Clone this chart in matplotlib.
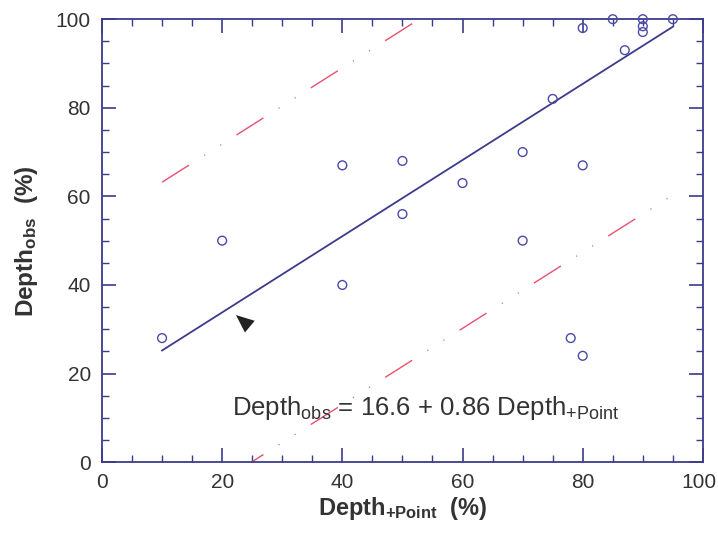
import matplotlib
matplotlib.use("Agg")
import matplotlib.pyplot as plt
from matplotlib.ticker import MultipleLocator, FuncFormatter
import numpy as np

plt.rcParams.update({
    "font.family": ["Liberation Sans", "DejaVu Sans"],
    "mathtext.fontset": "custom",
    "mathtext.rm": "Liberation Sans",
    "mathtext.bf": "Liberation Sans:bold",
    "mathtext.it": "Liberation Sans:italic",
})

# observed vs. +Point depth (%)
depth_point = [10, 20, 40, 40, 50, 50, 60, 70, 70, 75, 78, 80, 80, 80, 85, 87, 90, 90, 90, 95]
depth_obs = [28, 50, 67, 40, 68, 56, 63, 70, 50, 82, 28, 24, 67, 98, 100, 93, 100, 98.4, 97.1, 100]

# regression fit and prediction band
intercept, slope = 16.6, 0.86
band = 38.0
fit_x = [10, 95]

NAVY = "#3b3b8c"
PT = "#4a4aa8"
RED = "#e8506e"
TXT = "#333333"

fig = plt.figure(figsize=(7.18, 5.33), dpi=100)
ax = fig.add_axes([0.142, 0.133, 0.837, 0.831])

xs = np.array(fit_x, dtype=float)
ax.plot(xs, intercept + slope * xs, color=NAVY, lw=1.3, zorder=3)
for sign in (1, -1):
    ax.plot(xs, intercept + slope * xs + sign * band, color=RED, lw=1.0,
            dashes=(23, 13, 0.7, 13, 0.7, 13), zorder=2)

ax.scatter(depth_point, depth_obs, s=40, facecolors="none", edgecolors=PT,
           linewidths=1.0, zorder=4, clip_on=False)

# arrowhead pointing at the fit line
ax.annotate("", xy=(22.3, 33.2), xytext=(26.0, 29.0),
            arrowprops=dict(arrowstyle="-|>,head_length=1.3,head_width=0.55",
                            color="#222222", lw=0, shrinkA=0, shrinkB=0))

ax.text(21.7, 12.2, r"$\mathrm{Depth}_{\mathrm{obs}}$ = 16.6 + 0.86 $\mathrm{Depth}_{\mathrm{+Point}}$",
        fontsize=18.5, color=TXT, va="center")

ax.set_xlim(0, 100)
ax.set_ylim(0, 100)
ax.xaxis.set_major_locator(MultipleLocator(20))
ax.xaxis.set_minor_locator(MultipleLocator(5))
ax.yaxis.set_major_locator(MultipleLocator(20))
ax.yaxis.set_minor_locator(MultipleLocator(5))
# the right-most x label is placed by hand so it stays inside the figure
ax.xaxis.set_major_formatter(FuncFormatter(lambda v, p: "" if v >= 100 else f"{v:.0f}"))
ax.annotate("100", xy=(100, 0), xytext=(-3, -8), textcoords="offset points",
            ha="center", va="top", fontsize=15, color=TXT, annotation_clip=False)
ax.tick_params(which="both", direction="in", top=True, right=True, color=NAVY,
               labelsize=15, labelcolor=TXT, pad=8)
ax.tick_params(which="major", length=10, width=1.2)
ax.tick_params(which="minor", length=5, width=1.0)
for s in ax.spines.values():
    s.set_color(NAVY)
    s.set_linewidth(1.3)

ax.set_xlabel(r"$\mathbf{Depth}_{\mathbf{+Point}}$  $\mathbf{(\%)}$", fontsize=17, color=TXT, labelpad=2)
ax.set_ylabel(r"$\mathbf{Depth}_{\mathbf{obs}}$  $\mathbf{(\%)}$", fontsize=17.5, color=TXT, labelpad=11)

fig.savefig("out.png", dpi=100)
